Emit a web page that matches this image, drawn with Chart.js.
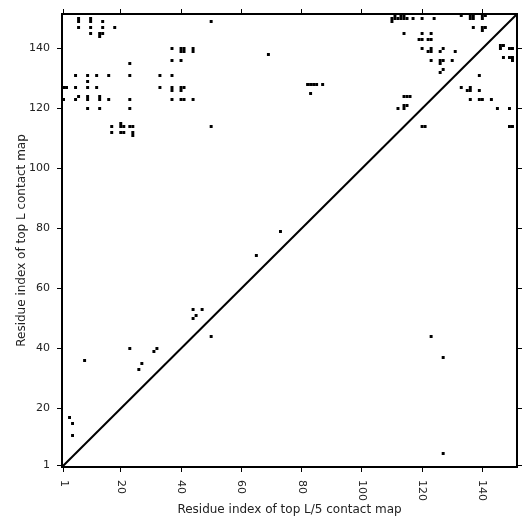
<!DOCTYPE html>
<html>
<head>
<meta charset="utf-8">
<script src="https://cdn.jsdelivr.net/npm/chart.js@4.4.1/dist/chart.umd.min.js"></script>
<style>
  html, body { margin: 0; padding: 0; background: #fff; }
  #wrap { width: 531px; height: 531px; }
</style>
</head>
<body>
<div id="wrap"><canvas id="contactMap"></canvas></div>
<script>
const axisRange = [0.5, 151.5];
const tickValues = [1, 20, 40, 60, 80, 100, 120, 140];
const xTitle = 'Residue index of top L/5 contact map';
const yTitle = 'Residue index of top L contact map';

// contacts as (residue x, residue y)
const residueX = [
  6, 6, 10, 10, 14, 6, 10, 14, 18, 10, 13, 14, 13, 23,
  5, 9, 12, 16, 23, 33, 37, 9,
  1, 2, 5, 9, 12, 33, 37, 37, 40, 41, 40,
  1, 5, 6, 9, 9, 13, 13, 16, 23, 37, 40, 41, 44,
  9, 13, 23,
  17, 20, 20, 21, 23, 24, 50,
  17, 20, 21, 24, 24,
  37, 40, 41, 40, 41, 44, 44, 37, 40,
  69, 50, 82, 83, 84, 85, 87, 83,
  111, 113, 114, 110, 111, 112, 113, 114, 115, 110, 117, 120, 124,
  133, 136, 137, 136, 137, 140, 141, 140,
  137, 140, 141, 140,
  114, 120, 123, 119, 120, 122, 123,
  120, 123, 122, 123, 127, 126, 131,
  123, 126, 127, 126, 130, 127, 126,
  114, 115, 116, 112, 114, 115, 114, 120, 121,
  146, 147, 146, 149, 150, 147, 149, 150, 150,
  139, 133, 135, 136, 136, 139, 136, 139, 140, 143, 145, 149, 149, 150,
  73, 65, 44, 47, 45, 44, 50, 23, 32, 31, 8, 27, 26, 3, 4, 4,
  127, 123, 127
];
const residueY = [
  150, 149, 150, 149, 149, 147, 147, 147, 147, 145, 145, 145, 144, 135,
  131, 131, 131, 131, 131, 131, 131, 129,
  127, 127, 127, 127, 127, 127, 127, 126, 127, 127, 126,
  123, 123, 124, 124, 123, 124, 123, 123, 123, 123, 123, 123, 123,
  120, 120, 120,
  114, 115, 114, 114, 114, 114, 114,
  112, 112, 112, 112, 111,
  140, 140, 140, 139, 139, 140, 139, 136, 136,
  138, 149, 128, 128, 128, 128, 128, 125,
  151, 151, 151, 150, 150, 150, 150, 150, 150, 149, 150, 150, 150,
  151, 151, 151, 150, 150, 151, 151, 150,
  147, 147, 147, 146,
  145, 145, 145, 143, 143, 143, 143,
  140, 140, 139, 139, 140, 139, 139,
  136, 136, 136, 135, 136, 133, 132,
  124, 124, 124, 120, 121, 121, 120, 114, 114,
  141, 141, 140, 140, 140, 137, 137, 137, 136,
  131, 127, 126, 126, 127, 126, 123, 123, 123, 123, 120, 120, 114, 114,
  79, 71, 53, 53, 51, 50, 44, 40, 40, 39, 36, 35, 33, 17, 15, 11,
  5, 44, 37
];

const fontFamily = '"DejaVu Sans", sans-serif';
const textColor = '#222';

// x tick labels read top-to-bottom in the reference, so draw them turned clockwise
const downwardXLabels = {
  id: 'downwardXLabels',
  afterDraw(chart) {
    const ctx = chart.ctx;
    const xs = chart.scales.x;
    ctx.save();
    ctx.font = '11px ' + fontFamily;
    ctx.fillStyle = textColor;
    ctx.textAlign = 'left';
    ctx.textBaseline = 'middle';
    tickValues.forEach((v) => {
      ctx.save();
      ctx.translate(xs.getPixelForValue(v), chart.chartArea.bottom + 13);
      ctx.rotate(Math.PI / 2);
      ctx.fillText(String(v), 0, 0);
      ctx.restore();
    });
    ctx.restore();
  }
};

const setTicks = (s) => { s.ticks = tickValues.map((v) => ({ value: v })); };
const tickGrid = { drawOnChartArea: false, drawTicks: true, tickLength: 5, color: '#000', lineWidth: 1 };
const spine = { display: true, color: '#000', width: 2 };

new Chart('contactMap', {
  type: 'scatter',
  data: {
    datasets: [
      {
        data: residueX.map((x, i) => ({ x: x, y: residueY[i] })),
        pointStyle: 'rect',
        pointRadius: 2.1,
        backgroundColor: '#000',
        borderWidth: 0,
      },
      {
        type: 'line',
        data: axisRange.map((v) => ({ x: v, y: v })),
        borderColor: '#000',
        borderWidth: 2,
        pointRadius: 0,
        fill: false,
      },
    ],
  },
  options: {
    responsive: true,
    maintainAspectRatio: false,
    animation: false,
    events: [],
    layout: { padding: 0 },
    plugins: { legend: { display: false }, tooltip: { enabled: false } },
    scales: {
      x: {
        type: 'linear', position: 'bottom',
        min: axisRange[0], max: axisRange[1],
        afterBuildTicks: setTicks,
        afterFit: (s) => { s.height = 64; },
        ticks: { display: false },
        grid: tickGrid,
        border: spine,
        title: {
          display: true, text: xTitle, color: textColor,
          font: { family: fontFamily, size: 12 },
          padding: { top: 0, bottom: 14 },
        },
      },
      x2: {
        type: 'linear', position: 'top',
        min: axisRange[0], max: axisRange[1],
        afterBuildTicks: setTicks,
        afterFit: (s) => { s.height = 14; },
        ticks: { display: false },
        grid: tickGrid,
        border: spine,
      },
      y: {
        type: 'linear', position: 'left',
        min: axisRange[0], max: axisRange[1],
        afterBuildTicks: setTicks,
        afterFit: (s) => { s.width = 62; },
        ticks: {
          color: textColor, padding: 7,
          font: { family: fontFamily, size: 11 },
          callback: (v) => String(v),
        },
        grid: tickGrid,
        border: spine,
        title: {
          display: true, text: yTitle, color: textColor,
          font: { family: fontFamily, size: 12 },
          padding: { top: 15, bottom: 0 },
        },
      },
      y2: {
        type: 'linear', position: 'right',
        min: axisRange[0], max: axisRange[1],
        afterBuildTicks: setTicks,
        afterFit: (s) => { s.width = 14; },
        ticks: { display: false },
        grid: tickGrid,
        border: spine,
      },
    },
  },
  plugins: [downwardXLabels],
});
</script>
</body>
</html>
